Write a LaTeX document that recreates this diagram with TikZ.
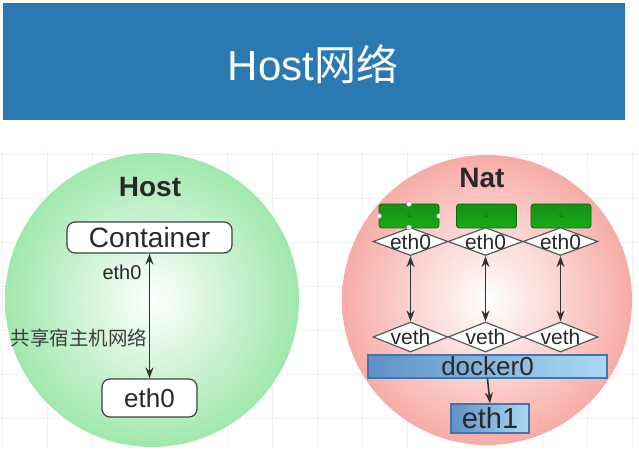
\documentclass[tikz,border=0pt]{standalone}
\usepackage{fontspec}
\setmainfont{Liberation Sans}
\newfontfamily\cjk{Noto Sans CJK SC}
\usetikzlibrary{shapes.geometric,arrows.meta}
\definecolor{banner}{RGB}{42,121,178}
\definecolor{txt}{RGB}{40,40,40}
\definecolor{hostedge}{RGB}{160,232,172}
\definecolor{natedge}{RGB}{247,172,166}
\definecolor{gbox}{RGB}{24,170,24}
\definecolor{gboxd}{RGB}{12,105,12}
\definecolor{bl}{RGB}{95,145,200}
\definecolor{br}{RGB}{170,218,242}
\definecolor{bedge}{RGB}{70,115,170}
\tikzset{
  stk/.tip={Stealth[length=11pt,width=8pt]},
  rbox/.style={draw=black!75, line width=1.2pt, rounded corners=8pt, fill=white, text=txt, inner sep=0pt},
  gbx/.style={draw=gboxd, line width=0.9pt, rounded corners=3pt, top color=gbox!85!black, bottom color=gbox, minimum width=60pt, minimum height=24pt, inner sep=0pt, font=\fontsize{7}{8}\selectfont, text=gboxd},
  dia/.style={diamond, draw=black!65, line width=1.2pt, fill=white, minimum width=75pt, minimum height=28pt, inner sep=0pt},
  dlab/.style={font=\fontsize{21}{24}\selectfont, text=txt, inner sep=0pt},
  bbox/.style={draw=bedge, line width=1.2pt, left color=bl, right color=br, text=txt, inner sep=0pt},
  conn/.style={draw=black!80, line width=1.6pt},
  handle/.style={circle, draw=black!40, fill=white, minimum size=5pt, inner sep=0pt},
}
\begin{document}
\begin{tikzpicture}[x=1pt,y=-1pt]
\useasboundingbox[fill=white] (0,0) rectangle (639,454);
% banner
\fill[banner] (3,3) rectangle (625,120);
\node[text=white, font=\fontsize{42}{46}\selectfont] (title) at (313,64) {Host{\cjk 网络}};
% grid
\foreach \gx in {2,47,...,632} \draw[black!6, line width=0.6pt] (\gx,150) -- (\gx,450);
\foreach \gy in {154,198,...,450} \draw[black!6, line width=0.6pt] (0,\gy) -- (639,\gy);
% Host circle
\shade[inner color=white, outer color=hostedge] (152,300) circle (147);
\node[font=\bfseries\fontsize{28}{30}\selectfont, text=txt] (hostlbl) at (150,187) {Host};
\node[rbox, minimum width=165pt, minimum height=31pt, font=\fontsize{28}{30}\selectfont] (cont) at (149.5,237.5) {Container};
\node[rbox, minimum width=95pt, minimum height=38pt, font=\fontsize{26}{28}\selectfont] (heth) at (149.5,398) {eth0};
\draw[conn, stk-stk] (cont.south) -- (heth.north);
\node[font=\fontsize{20}{22}\selectfont, text=txt] (ethlbl) at (122,272) {eth0};
\node[font=\cjk\fontsize{19.5}{22}\selectfont, text=txt!90] (share) at (79,338) {共享宿主机网络};
% Nat circle
\shade[inner color=white, outer color=natedge] (487,300) circle (145);
\node[font=\bfseries\fontsize{28}{30}\selectfont, text=txt] (natlbl) at (482,178) {Nat};
\node[gbx] (c1) at (409,216) {c};
\node[gbx] (c2) at (486.5,216) {c};
\node[gbx] (c3) at (561,216) {c};
\node[dia, label={[dlab]center:eth0}] (e1) at (410.5,241.5) {};
\node[dia, label={[dlab]center:eth0}] (e2) at (485.5,241.5) {};
\node[dia, label={[dlab]center:eth0}] (e3) at (560.5,241.5) {};
\node[handle] (h1) at (379,216) {};
\node[handle] (h2) at (439,216) {};
\node[handle] (h3) at (409,204) {};
\node[handle] (h4) at (409,227.5) {};
\node[dia, minimum height=30pt, label={[dlab]center:veth}] (v1) at (410.5,337) {};
\node[dia, minimum height=30pt, label={[dlab]center:veth}] (v2) at (485.5,337) {};
\node[dia, minimum height=30pt, label={[dlab]center:veth}] (v3) at (560.5,337) {};
\foreach \i in {1,2,3}
  \draw[conn, stk-stk] (e\i.south) -- (v\i.north);
\node[bbox, minimum width=239pt, minimum height=23pt, font=\fontsize{26}{28}\selectfont] (dock) at (487.5,366.5) {docker0};
\node[bbox, minimum width=78pt, minimum height=29pt, font=\fontsize{29}{31}\selectfont] (eth1) at (490,418.5) {eth1};
\draw[conn, -stk] (dock.south) -- (eth1.north);
\end{tikzpicture}
\end{document}
